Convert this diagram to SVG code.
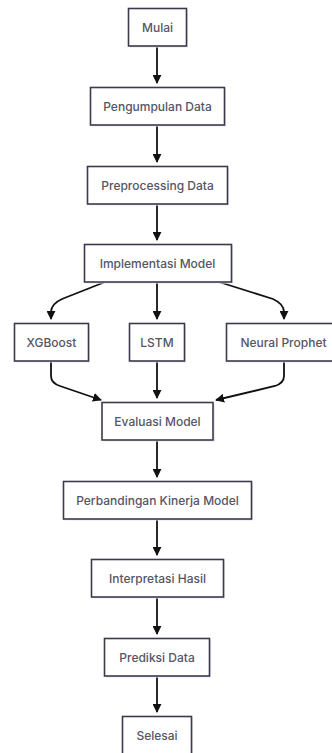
<svg xmlns="http://www.w3.org/2000/svg" width="332" height="753" viewBox="0 0 332 753">
<style>
.box{fill:#ffffff;stroke:#3a3a4c;stroke-width:1.6}
.sh{fill:#e8e8ec}
.lbl{font-family:Inter,"Liberation Sans",Arial,sans-serif;font-size:12px;font-weight:500;fill:#555566;text-anchor:middle;dominant-baseline:central}
.edge{fill:none;stroke:#111111;stroke-width:1.8}
</style>
<defs>
<marker id="ah" viewBox="0 0 10 10" refX="9" refY="5" markerUnits="userSpaceOnUse" markerWidth="9" markerHeight="9" orient="auto">
<path d="M0,0 L10,5 L0,10 z" fill="#111111"/>
</marker>
</defs>
<rect width="332" height="753" fill="#ffffff"/>
<g id="connectors">
<path class="edge" d="M157,46 L157,83" marker-end="url(#ah)"/>
<path class="edge" d="M157,125 L157,162" marker-end="url(#ah)"/>
<path class="edge" d="M157,204 L157,240" marker-end="url(#ah)"/>
<path class="edge" d="M105,282 L62,299 Q51,304 51,312 L51,319" marker-end="url(#ah)"/>
<path class="edge" d="M157,282 L157,319" marker-end="url(#ah)"/>
<path class="edge" d="M219,282 L273,299 Q284,304 284,312 L284,319" marker-end="url(#ah)"/>
<path class="edge" d="M51,361 L51,376 Q51,383 60,386 L101,400" marker-end="url(#ah)"/>
<path class="edge" d="M157,361 L157,398" marker-end="url(#ah)"/>
<path class="edge" d="M284,361 L284,376 Q284,383 275,386 L216,400" marker-end="url(#ah)"/>
<path class="edge" d="M157,440 L157,477" marker-end="url(#ah)"/>
<path class="edge" d="M157,519 L157,555" marker-end="url(#ah)"/>
<path class="edge" d="M157,597 L157,634" marker-end="url(#ah)"/>
<path class="edge" d="M157,676 L157,712" marker-end="url(#ah)"/>
</g>
<g id="mulai"><rect class="sh" x="130" y="10" width="58" height="37.5"/><rect class="box" x="128.5" y="8.5" width="58" height="37.5"/><text class="lbl" x="157.5" y="27">Mulai</text></g>
<g id="pengumpulan"><rect class="sh" x="92" y="89" width="134" height="37.5"/><rect class="box" x="90.5" y="87.5" width="134" height="37.5"/><text class="lbl" x="157.5" y="106">Pengumpulan Data</text></g>
<g id="preprocessing"><rect class="sh" x="89" y="168" width="140" height="37.5"/><rect class="box" x="87.5" y="166.5" width="140" height="37.5"/><text class="lbl" x="157.5" y="185">Preprocessing Data</text></g>
<g id="implementasi"><rect class="sh" x="86" y="246" width="147" height="37.5"/><rect class="box" x="84.5" y="244.5" width="147" height="37.5"/><text class="lbl" x="157.5" y="263">Implementasi Model</text></g>
<g id="xgboost"><rect class="sh" x="16" y="325" width="74" height="37.5"/><rect class="box" x="14.5" y="323.5" width="74" height="37.5"/><text class="lbl" x="51.5" y="342">XGBoost</text></g>
<g id="lstm"><rect class="sh" x="131" y="325" width="55" height="37.5"/><rect class="box" x="129.5" y="323.5" width="55" height="37.5"/><text class="lbl" x="157" y="342">LSTM</text></g>
<g id="neural"><rect class="sh" x="228" y="325" width="116" height="37.5"/><rect class="box" x="226.5" y="323.5" width="116" height="37.5"/><text class="lbl" x="283.5" y="342">Neural Prophet</text></g>
<g id="evaluasi"><rect class="sh" x="104" y="404" width="111" height="37.5"/><rect class="box" x="102" y="402.5" width="111" height="37.5"/><text class="lbl" x="157.5" y="421">Evaluasi Model</text></g>
<g id="perbandingan"><rect class="sh" x="65" y="483" width="188" height="37.5"/><rect class="box" x="63.5" y="481.5" width="188" height="37.5"/><text class="lbl" x="157.5" y="500">Perbandingan Kinerja Model</text></g>
<g id="interpretasi"><rect class="sh" x="93" y="561" width="132" height="37.5"/><rect class="box" x="91.5" y="559.5" width="132" height="37.5"/><text class="lbl" x="157.5" y="578">Interpretasi Hasil</text></g>
<g id="prediksi"><rect class="sh" x="106" y="640" width="105" height="37.5"/><rect class="box" x="104.5" y="638.5" width="105" height="37.5"/><text class="lbl" x="157" y="657">Prediksi Data</text></g>
<g id="selesai"><rect class="sh" x="124" y="718" width="69" height="37.5"/><rect class="box" x="122.5" y="716.5" width="69" height="37.5"/><text class="lbl" x="157" y="735">Selesai</text></g>
</svg>
